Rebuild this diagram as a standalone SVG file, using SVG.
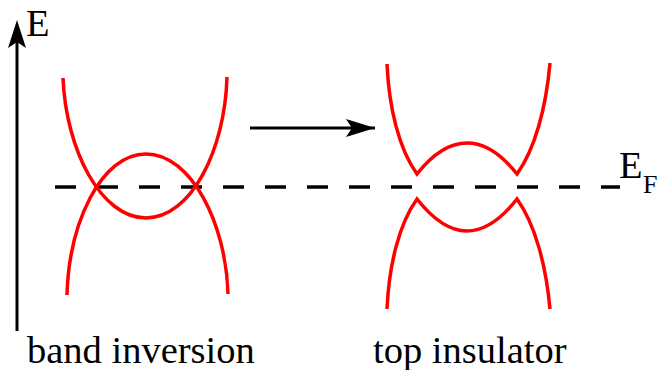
<svg xmlns="http://www.w3.org/2000/svg" width="662" height="370" viewBox="0 0 662 370">
<style>
.band{fill:none;stroke:#ff0000;stroke-width:3.5;stroke-linecap:butt;stroke-linejoin:miter}
.blk{stroke:#000;fill:none}
text{fill:#000;font-family:'Liberation Serif','DejaVu Serif',serif}
</style>
<defs>
<marker id="ah" markerUnits="userSpaceOnUse" markerWidth="32" markerHeight="20" viewBox="0 0 32 20" refX="29" refY="10" orient="auto">
<path d="M0,1 L29,10 L0,19 L6,10 Z" fill="#000"/>
</marker>
</defs>
<rect width="662" height="370" fill="#fff"/>
<g id="axis">
<line class="blk" x1="17" y1="331" x2="17" y2="40" stroke-width="3"/>
<path d="M17,20 L26,48 L17,42 L8,48 Z" fill="#000"/>
<text x="26" y="36" font-size="38.5">E</text>
</g>
<g id="fermi">
<line class="blk" x1="55" y1="187" x2="620" y2="187" stroke-width="3.5" stroke-dasharray="21 21"/>
<text x="619" y="178" font-size="38.5">E</text>
<text x="643" y="193" font-size="26">F</text>
</g>
<g id="band-inversion">
<path class="band" d="M63,78 C66,150 101,218 146,218 C191,218 225,150 227,77"/>
<path class="band" d="M67,295 C69,223 101,154 146,154 C191,154 226,223 228,294"/>
<text x="27" y="363" font-size="38.5">band inversion</text>
</g>
<g id="top-insulator">
<path class="band" d="M387,64 C389,108 399,149 417,174 C432,155 448,143 467,143 C486,143 502,155 517,174 C535,149 546,108 550,63"/>
<path class="band" d="M387,309 C389,265 399,224 417,199 C432,218 448,231 467,231 C486,231 502,218 517,199 C535,224 546,265 550,309"/>
<text x="373" y="363" font-size="38.5">top insulator</text>
</g>
<g id="connectors">
<line class="blk" x1="250" y1="128" x2="375" y2="128" stroke-width="3" marker-end="url(#ah)"/>
</g>
</svg>
